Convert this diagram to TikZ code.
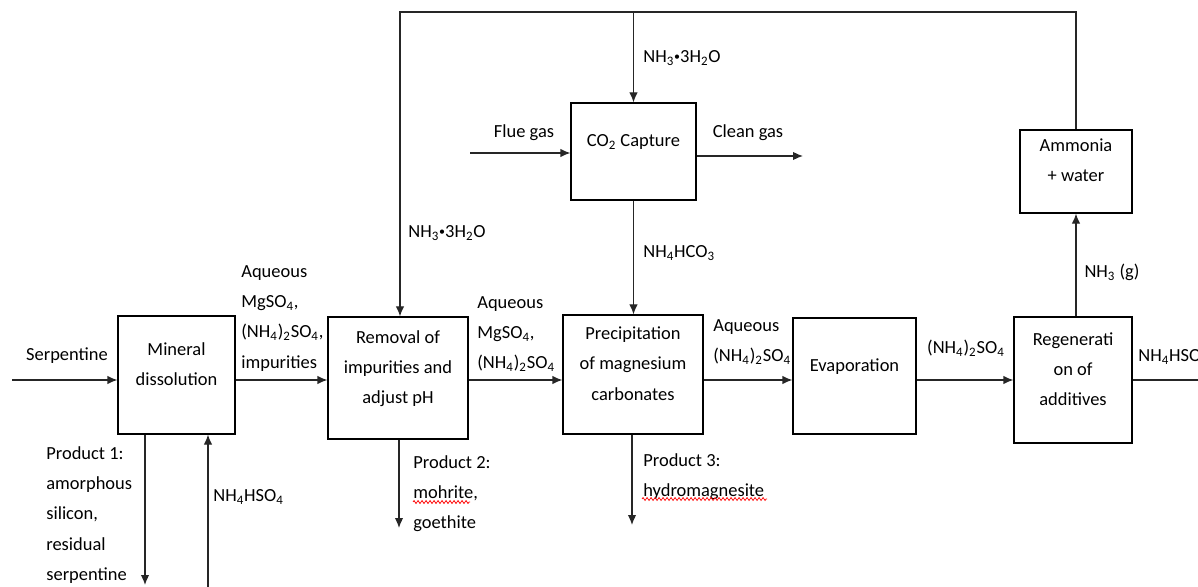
\documentclass[tikz,border=0pt]{standalone}
\usepackage{fontspec}
\setmainfont{Carlito}
\usepackage{tikz}
\usetikzlibrary{arrows,arrows.meta,decorations.pathmorphing}
\tikzstyle{procB}=[rectangle, draw, line width=0.7pt, align=center, text depth=4.4mm, font=\fontsize{10.5}{17.2}\selectfont]
\tikzstyle{flow}=[->, >={Latex[length=2mm,width=1.7mm]}, line width=0.7pt, draw=black!85]
\tikzstyle{lbl}=[inner sep=0pt, font=\fontsize{10.5}{17.3}\selectfont]
\tikzstyle{lblL}=[lbl, align=left, anchor=north west]
\tikzstyle{squig}=[red, line width=0.4pt, decorate, decoration={zigzag, amplitude=0.3mm, segment length=0.8mm}]
\newcommand{\hydr}{\raisebox{0.12em}{\scalebox{0.65}{\textbullet}}}

\begin{document}
\begin{tikzpicture}[x=0.2mm, y=-0.2mm]
      \clip (0,0) rectangle (1198,587);
      % process boxes
      \node(min) [procB, minimum width=23.4mm, minimum height=23.6mm] at (176.5,375) {Mineral\\dissolution};
      \node(rem) [procB, minimum width=28mm, minimum height=24.4mm] at (398,378) {Removal of\\impurities and\\adjust pH};
      \node(pre) [procB, minimum width=28mm, minimum height=23.8mm] at (633,374.5) {Precipitation\\of magnesium\\carbonates};
      \node(eva) [procB, minimum width=24.6mm, minimum height=23.2mm] at (854.5,376) {Evaporation};
      \node(reg) [procB, minimum width=23.6mm, minimum height=25.2mm] at (1073,380) {Regenerati\\on of\\additives};
      \node(amm) [procB, minimum width=22.4mm, minimum height=16.6mm] at (1076,171.5) {Ammonia\\+ water};
      \node(co2) [procB, minimum width=25mm, minimum height=19.4mm] at (633.5,151.5) {CO\textsubscript{2} Capture};
      % free ends
      \coordinate(serp) at (12,380);
      \coordinate(out) at (1198,380);
      \coordinate(p1) at (145,585);
      \coordinate(hso) at (208,587);
      \coordinate(p2) at (399,528);
      \coordinate(p3) at (632,525);
      \coordinate(tr) at (1076,12);
      \coordinate(tl) at (400,12);
      \coordinate(flue) at (470,153);
      \coordinate(clean) at (803,156);
      % main line
      \draw[flow] (serp) -- (min.west |- serp);
      \draw[flow] (min.east |- serp) -- (rem.west |- serp);
      \draw[flow] (rem.east |- serp) -- (pre.west |- serp);
      \draw[flow] (pre.east |- serp) -- (eva.west |- serp);
      \draw[flow] (eva.east |- serp) -- (reg.west |- serp);
      \draw[flow, -] (reg.east |- serp) -- (out);
      % products and feeds
      \draw[flow] (min.south -| p1) -- (p1);
      \draw[flow] (hso) -- (min.south -| hso);
      \draw[flow] (rem.south -| p2) -- (p2);
      \draw[flow] (pre.south -| p3) -- (p3);
      % ammonia recycle
      \draw[flow] (amm.north) -- (tr) -- (tl) -- (rem.north -| tl);
      \draw[flow] (co2.north |- tl) -- (co2.north);
      \draw[flow] (co2.south) -- (pre.north -| co2.south);
      \draw[flow] (reg.north -| amm.south) -- (amm.south);
      \draw[flow] (flue) -- (co2.west |- flue);
      \draw[flow] (co2.east |- clean) -- (clean);
      % labels
      \node(serpL) [lbl] at (67,356) {Serpentine};
      \node(aq1) [lblL] at (241,265) {Aqueous\\MgSO\textsubscript{4},\\(NH\textsubscript{4})\textsubscript{2}SO\textsubscript{4},\\impurities};
      \node(aq2) [lblL] at (477,296) {Aqueous\\MgSO\textsubscript{4},\\(NH\textsubscript{4})\textsubscript{2}SO\textsubscript{4}};
      \node(aq3) [lblL] at (713,319) {Aqueous\\(NH\textsubscript{4})\textsubscript{2}SO\textsubscript{4}};
      \node(amsL) [lbl] at (966,348) {(NH\textsubscript{4})\textsubscript{2}SO\textsubscript{4}};
      \node(hsoR) [lbl, anchor=west] at (1138,357) {NH\textsubscript{4}HSO\textsubscript{4}};
      \node(nh3g) [lbl] at (1112,272) {NH\textsubscript{3} (g)};
      \node(pr1) [lblL] at (46,446) {Product 1:\\amorphous\\silicon,\\residual\\serpentine};
      \node(hsoL) [lbl, anchor=west] at (213,497) {NH\textsubscript{4}HSO\textsubscript{4}};
      \node(pr2) [lblL] at (413,455) {Product 2:\\mohrite,\\goethite};
      \node(pr3) [lblL] at (643,453) {Product 3:\\hydromagnesite};
      \node(aqT) [lbl, anchor=west] at (643,58) {NH\textsubscript{3}\hydr3H\textsubscript{2}O};
      \node(aqL) [lbl, anchor=west] at (408,233) {NH\textsubscript{3}\hydr3H\textsubscript{2}O};
      \node(hco) [lbl, anchor=west] at (643,253) {NH\textsubscript{4}HCO\textsubscript{3}};
      \node(flueL) [lbl] at (524,133) {Flue gas};
      \node(cleanL) [lbl] at (748,133) {Clean gas};
      % spell-check marks
      \draw[squig] (413,502) -- (470,502);
      \draw[squig] (642,499) -- (767,499);
    \end{tikzpicture}
\end{document}
